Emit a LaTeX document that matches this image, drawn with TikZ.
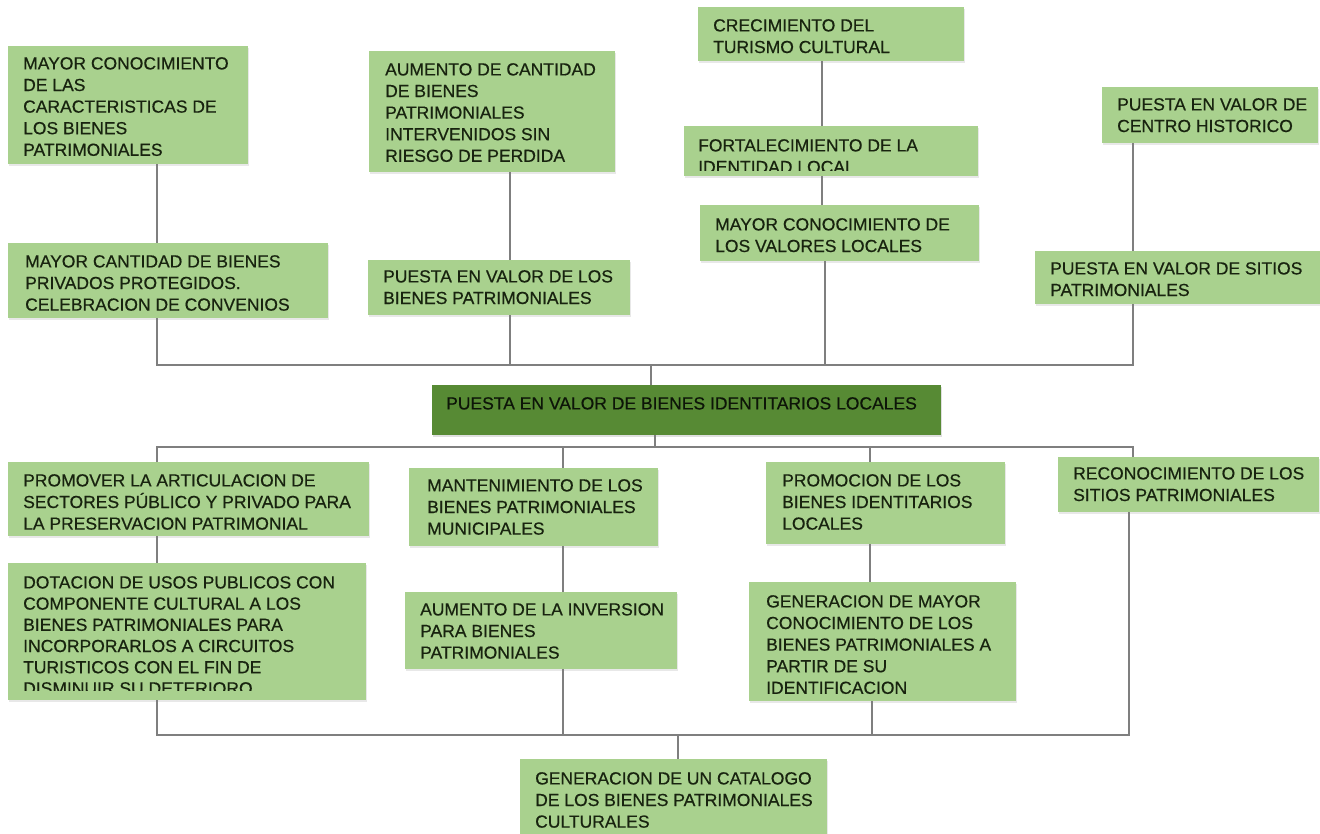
\documentclass[tikz,border=0pt]{standalone}
\usepackage{fontspec}
\setmainfont{Liberation Sans}
\newfontfamily\boxfont{Liberation Sans}[FakeBold=0.5]
\usetikzlibrary{calc,shadows}
\definecolor{boxg}{HTML}{A9D18E}
\definecolor{darkg}{HTML}{578A34}
\definecolor{linec}{HTML}{7F7F7F}
\definecolor{txtc}{HTML}{18230F}
\begin{document}
\begin{tikzpicture}[x=1pt,y=-1pt,
  gbox/.style={rectangle, fill=boxg, draw=none, inner sep=0pt, anchor=north west,
    drop shadow={opacity=0.18, shadow xshift=1pt, shadow yshift=-1.5pt}},
  cbox/.style={rectangle, fill=darkg, draw=none, inner sep=0pt, anchor=north west,
    drop shadow={opacity=0.25, shadow xshift=1pt, shadow yshift=-1.5pt}},
  txt/.style={anchor=north west, inner sep=0pt, align=left, text=txtc,
    font=\boxfont\fontsize{17.5}{21.6}\selectfont},
  conn/.style={draw=linec, line width=1.6pt, line join=miter}]
\useasboundingbox[fill=white] (0,0) rectangle (1320,833);

% ---------- upper boxes ----------
\node[gbox, minimum width=240pt, minimum height=118pt] (a1) at (8,46) {};
\node[txt] at (23,57) {MAYOR CONOCIMIENTO\\DE LAS\\CARACTERISTICAS DE\\LOS BIENES\\PATRIMONIALES};
\node[gbox, minimum width=320pt, minimum height=75pt] (a2) at (8,243) {};
\node[txt] at (25,255) {MAYOR CANTIDAD DE BIENES\\PRIVADOS PROTEGIDOS.\\CELEBRACION DE CONVENIOS};

\node[gbox, minimum width=246pt, minimum height=121pt] (b1) at (369,51) {};
\node[txt] at (385,63) {AUMENTO DE CANTIDAD\\DE BIENES\\PATRIMONIALES\\INTERVENIDOS SIN\\RIESGO DE PERDIDA};
\node[gbox, minimum width=262pt, minimum height=55pt] (b2) at (368,260) {};
\node[txt] at (383,270) {PUESTA EN VALOR DE LOS\\BIENES PATRIMONIALES};

\node[gbox, minimum width=266pt, minimum height=54pt] (c1) at (698,7) {};
\node[txt] at (713,19) {CRECIMIENTO DEL\\TURISMO CULTURAL};
\node[gbox, minimum width=294pt, minimum height=50pt] (c2) at (684,126) {};
\begin{scope}
  \clip (684,126) rectangle (978,170);
  \node[txt] at (698,139) {FORTALECIMIENTO DE LA\\IDENTIDAD LOCAL};
\end{scope}
\node[gbox, minimum width=279pt, minimum height=56pt] (c3) at (700,205) {};
\node[txt] at (715,218) {MAYOR CONOCIMIENTO DE\\LOS VALORES LOCALES};

\node[gbox, minimum width=216pt, minimum height=56pt] (d1) at (1102,87) {};
\node[txt] at (1117,98) {PUESTA EN VALOR DE\\CENTRO HISTORICO};
\node[gbox, minimum width=285pt, minimum height=53pt] (d2) at (1035,251) {};
\node[txt] at (1050,262) {PUESTA EN VALOR DE SITIOS\\PATRIMONIALES};

% ---------- central box ----------
\node[cbox, minimum width=509pt, minimum height=50pt] (ct) at (432,385) {};
\node[txt, text=black!85!darkg] at (446,397) {PUESTA EN VALOR DE BIENES IDENTITARIOS LOCALES};

% ---------- lower boxes ----------
\node[gbox, minimum width=361pt, minimum height=74pt] (e1) at (8,462) {};
\node[txt] at (23,474) {PROMOVER LA ARTICULACION DE\\SECTORES PÚBLICO Y PRIVADO PARA\\LA PRESERVACION PATRIMONIAL};
\node[gbox, minimum width=358pt, minimum height=137pt] (e2) at (8,563) {};
\begin{scope}
  \clip (8,563) rectangle (366,690);
  \node[txt, font=\boxfont\fontsize{17.5}{21.2}\selectfont] at (23,576) {DOTACION DE USOS PUBLICOS CON\\COMPONENTE CULTURAL A LOS\\BIENES PATRIMONIALES PARA\\INCORPORARLOS A CIRCUITOS\\TURISTICOS CON EL FIN DE\\DISMINUIR SU DETERIORO};
\end{scope}

\node[gbox, minimum width=249pt, minimum height=78pt] (f1) at (409,468) {};
\node[txt] at (427,479) {MANTENIMIENTO DE LOS\\BIENES PATRIMONIALES\\MUNICIPALES};
\node[gbox, minimum width=272pt, minimum height=77pt] (f2) at (405,592) {};
\node[txt] at (420,603) {AUMENTO DE LA INVERSION\\PARA BIENES\\PATRIMONIALES};

\node[gbox, minimum width=239pt, minimum height=82pt] (g1) at (766,462) {};
\node[txt] at (782,474) {PROMOCION DE LOS\\BIENES IDENTITARIOS\\LOCALES};
\node[gbox, minimum width=267pt, minimum height=119pt] (g2) at (749,582) {};
\node[txt] at (766,595) {GENERACION DE MAYOR\\CONOCIMIENTO DE LOS\\BIENES PATRIMONIALES A\\PARTIR DE SU\\IDENTIFICACION};

\node[gbox, minimum width=261pt, minimum height=55pt] (h1) at (1058,457) {};
\node[txt] at (1073,467) {RECONOCIMIENTO DE LOS\\SITIOS PATRIMONIALES};

\node[gbox, minimum width=307pt, minimum height=76pt] (cat) at (520,759) {};
\node[txt] at (535,772) {GENERACION DE UN CATALOGO\\DE LOS BIENES PATRIMONIALES\\CULTURALES};

% ---------- connector guides ----------
\coordinate (xA) at (157,0);
\coordinate (xB) at (510,0);
\coordinate (xC) at (822,0);
\coordinate (xC3) at (825,0);
\coordinate (xD) at (1133,0);
\coordinate (xCt) at (651,0);
\coordinate (xCb) at (655,0);
\coordinate (xF) at (563,0);
\coordinate (xG) at (870,0);
\coordinate (xG2) at (872,0);
\coordinate (xHb) at (1129,0);
\coordinate (xI) at (678,0);
\coordinate (tb) at (0,365);
\coordinate (mb) at (0,447);
\coordinate (bb) at (0,735);

% upper chains
\draw[conn] (xA |- a1.south) -- (xA |- a2.north);
\draw[conn] (xB |- b1.south) -- (xB |- b2.north);
\draw[conn] (xC |- c1.south) -- (xC |- c2.north);
\draw[conn] (xC |- c2.south) -- (xC |- c3.north);
\draw[conn] (xD |- d1.south) -- (xD |- d2.north);
% top bus
\draw[conn] (xA |- a2.south) -- (xA |- tb) -- (xD |- tb) -- (xD |- d2.south);
\draw[conn] (xB |- b2.south) -- (xB |- tb);
\draw[conn] (xC3 |- c3.south) -- (xC3 |- tb);
\draw[conn] (xCt |- tb) -- (xCt |- ct.north);
% middle bus
\draw[conn] (xCb |- ct.south) -- (xCb |- mb);
\draw[conn] (xA |- e1.north) -- (xA |- mb) -- (xD |- mb) -- (xD |- h1.north);
\draw[conn] (xF |- mb) -- (xF |- f1.north);
\draw[conn] (xG |- mb) -- (xG |- g1.north);
% lower chains
\draw[conn] (xA |- e1.south) -- (xA |- e2.north);
\draw[conn] (xF |- f1.south) -- (xF |- f2.north);
\draw[conn] (xG |- g1.south) -- (xG |- g2.north);
% bottom bus
\draw[conn] (xA |- e2.south) -- (xA |- bb) -- (xHb |- bb) -- (xHb |- h1.south);
\draw[conn] (xF |- f2.south) -- (xF |- bb);
\draw[conn] (xG2 |- g2.south) -- (xG2 |- bb);
\draw[conn] (xI |- bb) -- (xI |- cat.north);
\end{tikzpicture}
\end{document}
